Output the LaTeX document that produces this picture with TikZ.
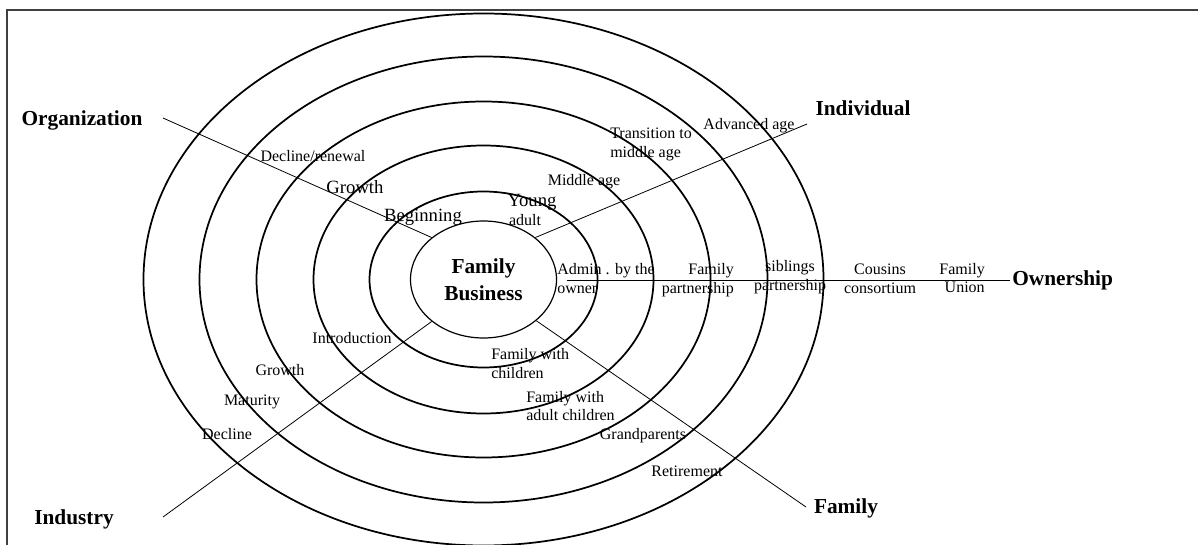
\documentclass[tikz,border=0pt]{standalone}
\usepackage{fontspec}
\setmainfont{Liberation Serif}
\usetikzlibrary{positioning, shapes.geometric}

\begin{document}
\begin{tikzpicture}[
    x=0.75pt, y=-0.75pt,
    core/.style={ellipse, draw, line width=0.9pt, inner sep=0pt, align=center,
                 minimum width=109.5pt, minimum height=87.75pt,
                 font=\fontsize{16}{20}\selectfont\bfseries},
    ring/.style={draw, line width=1.3pt},
    spoke/.style={draw, line width=0.6pt},
    axis/.style={inner sep=0pt, font=\fontsize{16}{19}\selectfont\bfseries},
    stage/.style={inner sep=0pt, font=\fontsize{12}{14}\selectfont},
    stagebig/.style={inner sep=0pt, font=\fontsize{14}{16}\selectfont}
  ]
  \useasboundingbox (0,0) rectangle (1198,545);
  \clip (0,0) rectangle (1198,545);
  % frame, cut by the page on the right and at the bottom
  \draw[line width=1.5pt, black!75] (7,10) rectangle (1230,580);

  % centre and rings
  \node[core] (core) at (483.5,279.5) {Family\\Business};
  \foreach \rx/\ry in {114/88, 170/134, 227/178, 284/223, 340/266}
    \draw[ring] (core.center) ellipse [x radius=\rx, y radius=\ry];

  % axes
  \node[axis] (org) at (82,120) {Organization};
  \node[axis] (ind) at (863,108) {Individual};
  \node[axis] (fam) at (846,508) {Family};
  \node[axis] (indus) at (74,519) {Industry};
  \coordinate (orgEnd) at (163,118);
  \coordinate (indEnd) at (807,124);
  \coordinate (famEnd) at (806,507);
  \coordinate (indusEnd) at (163,517);
  \coordinate (ownStart) at (567,280);
  \coordinate (ownEnd) at (1010,280);
  \node[axis, right=1.5pt of ownEnd] (own) {Ownership};

  \draw[spoke] (core.141) -- (orgEnd);
  \draw[spoke] (core.39) -- (indEnd);
  \draw[spoke] (core.322) -- (famEnd);
  \draw[spoke] (core.219) -- (indusEnd);
  \draw[spoke] (ownStart) -- (ownEnd);

  % organization stages
  \node[stage] (declren) at (313,156) {Decline/renewal};
  \node[stagebig] (orggrow) at (355,187) {Growth};
  \node[stagebig] (begin) at (423,217) {Beginning};

  % individual stages
  \node[stagebig] (young) at (532,202) {Young};
  \node[stage] (adult) at (525,220) {adult};
  \node[stage] (midage) at (584,182) {Middle age};
  \node[stage, align=left, anchor=west] (trans) at (610,144.5) {Transition to\\middle age};
  \node[stage] (adv) at (749,126) {Advanced age};

  % ownership stages
  \node[stage, align=left, anchor=west] (admin) at (557,278.7) {Admin . by the\\owner};
  \node[stage, align=right, anchor=east] (fampart) at (734,280) {Family\\partnership};
  \node[stage, align=center] (sibpart) at (790,277) {siblings\\partnership};
  \node[stage, align=center] (cousins) at (880,278.5) {Cousins\\consortium};
  \node[stage, align=right, anchor=east] (union) at (985,278) {Family\\Union};

  % family stages
  \node[stage, align=left, anchor=west] (famchild) at (491,363.5) {Family with\\children};
  \node[stage, align=left, anchor=west] (famadult) at (526,406) {Family with\\adult children};
  \node[stage] (grand) at (643,436) {Grandparents};
  \node[stage] (retire) at (687,471) {Retirement};

  % industry stages
  \node[stage] (intro) at (352,338) {Introduction};
  \node[stage] (indgrow) at (280,370) {Growth};
  \node[stage] (mature) at (252,402) {Maturity};
  \node[stage] (decline) at (227,434) {Decline};
\end{tikzpicture}
\end{document}
